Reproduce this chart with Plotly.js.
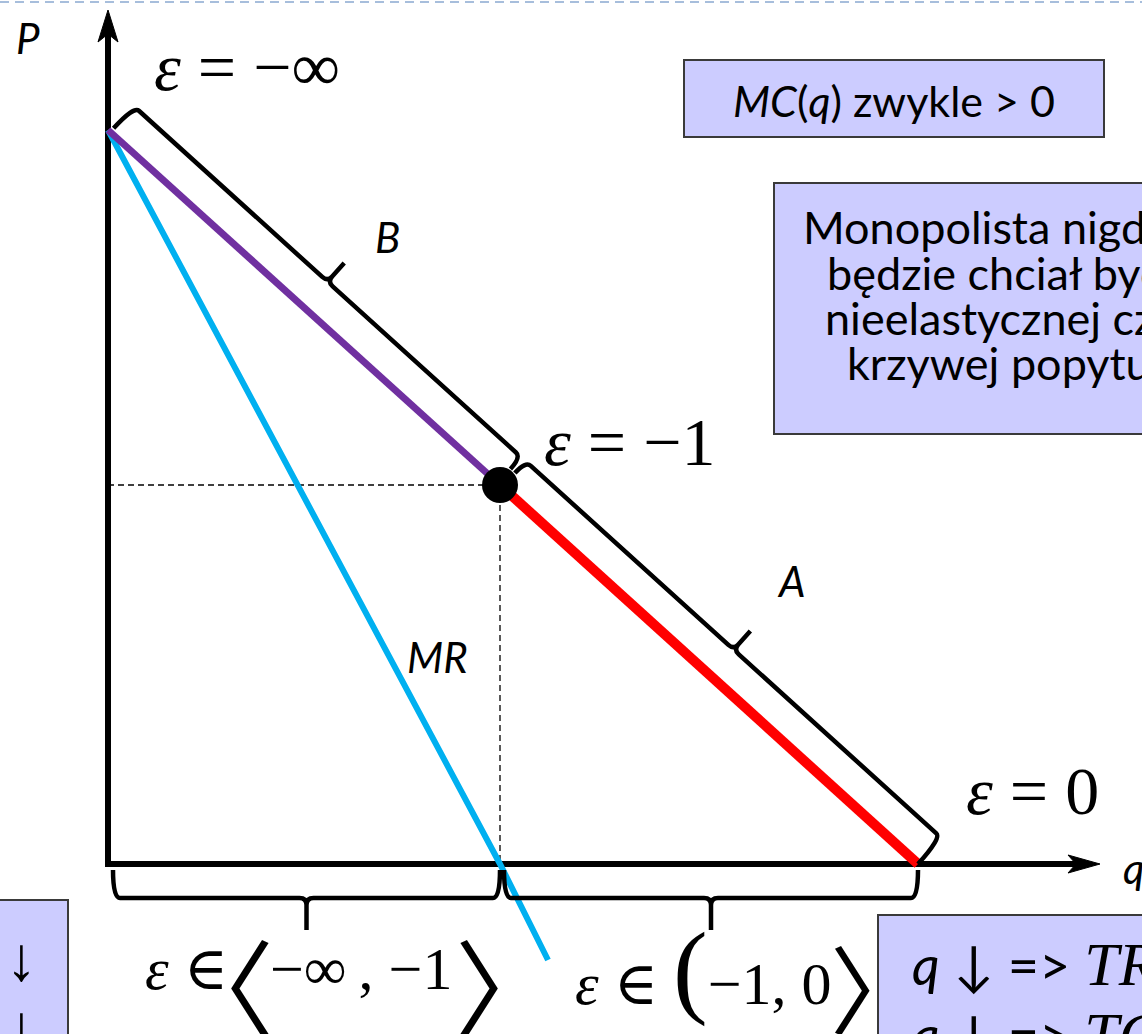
<!DOCTYPE html>
<html><head><meta charset="utf-8">
<script src="https://cdn.plot.ly/plotly-3.0.1.min.js"></script>
<style>html,body{margin:0;padding:0;background:#fff;overflow:hidden}</style>
</head><body><div id="chart" style="width:1142px;height:1034px"></div>
<script>
// ---------------- data (model units) ----------------
const demandQ = [0, 3.92, 8.10];     // P-intercept, unit-elastic point, q-intercept
const demandP = [7.34, 3.79, 0];
const mrQ = [0, 3.92, 4.40];         // marginal revenue line
const mrP = [7.34, 0, -0.96];
const unitQ = [3.92];                // point where elasticity = -1
const unitP = [3.79];
const axisEndQ = [9.92];
const axisEndP = [8.54];
const elasticityLabels = ["ε = −∞", "ε = −1", "ε = 0"];
const segmentLabels = ["B", "A", "MR"];
const axisLabels = ["P", "q"];
const mcText = ["<i>MC</i>(<i>q</i>) zwykle > 0"];
const monoLines = ["Monopolista nigdy nie", "będzie chciał być w", "nieelastycznej części", "krzywej popytu"];
const intervalInner = ["−∞\u2009, −1", "−1, 0"];

// ---------------- styling ----------------
const SANS = "Lato, 'DejaVu Sans', sans-serif";
const SERIF = "'Liberation Serif', 'DejaVu Serif', serif";
const CJK = "'Noto Sans CJK JP'";
const BOX_FILL = "#ccccff", BOX_LINE = "#3a3a3a";

// ---------------- traces ----------------
const traces = [];
function line(x, y, color, width, dash) {
  traces.push({x, y, type: "scatter", mode: "lines", hoverinfo: "skip",
    line: {color, width, dash: dash || "solid"}});
}
line([0, unitQ[0]], [unitP[0], unitP[0]], "#000", 1.3, "6px,4px");
line([unitQ[0], unitQ[0]], [unitP[0], 0], "#000", 1.3, "6px,4px");
line([0, 0], [-0.03, axisEndP[0] - 0.24], "#000", 6);
line([-0.03, axisEndQ[0] - 0.24], [0, 0], "#000", 6);
line(mrQ, mrP, "#00b0f0", 6);
line(demandQ.slice(0, 2), demandP.slice(0, 2), "#7030a0", 7);
line(demandQ.slice(1), demandP.slice(1), "#ff0000", 10);
traces.push({x: unitQ, y: unitP, type: "scatter", mode: "markers", hoverinfo: "skip",
  marker: {color: "#000", size: 36}});

// ---------------- braces (built from the data points) ----------------
function bracePath(S, u, nrm, s0, s1, n0, n1, h, t, r) {
  const p = (s, k) => (S[0] + s * u[0] + k * nrm[0]).toFixed(4) + "," + (S[1] + s * u[1] + k * nrm[1]).toFixed(4);
  const m = (s0 + s1) / 2;
  return "M" + p(s0, n0) + " Q" + p(s0, h) + " " + p(s0 + r, h) +
    " L" + p(m - r, h) + " Q" + p(m, h) + " " + p(m, h + r) + " L" + p(m, h + t) +
    " M" + p(m, h + r) + " Q" + p(m, h) + " " + p(m + r, h) +
    " L" + p(s1 - r, h) + " Q" + p(s1, h) + " " + p(s1, n1);
}
const S0 = [demandQ[0], demandP[0]];
const dx = demandQ[2] - demandQ[0], dy = demandP[2] - demandP[0];
const L = Math.hypot(dx, dy);
const u = [dx / L, dy / L];
const nrm = [-u[1], u[0]];
const sUnit = (unitQ[0] - S0[0]) * u[0] + (unitP[0] - S0[1]) * u[1];

const shapes = [];
function pathShape(path, width, fill) {
  shapes.push({type: "path", xref: "x", yref: "y", path,
    line: {color: "#000", width: width}, fillcolor: fill || "rgba(0,0,0,0)"});
}
pathShape(bracePath(S0, u, nrm, 0.03, sUnit - 0.03, 0.05, 0.19, 0.35, 0.25, 0.07), 4.5);
pathShape(bracePath(S0, u, nrm, sUnit + 0.03, L, 0.19, 0.0, 0.35, 0.25, 0.07), 4.5);
pathShape(bracePath([0, 0], [1, 0], [0, -1], 0.05, unitQ[0], 0.06, 0.06, 0.34, 0.32, 0.07), 4.5);
pathShape(bracePath([0, 0], [1, 0], [0, -1], unitQ[0] + 0.04, demandQ[2], 0.06, 0.06, 0.34, 0.32, 0.07), 4.5);

const aq = axisEndQ[0], ap = axisEndP[0];
pathShape(`M0,${ap} L-0.10,${ap - 0.32} L0,${ap - 0.24} L0.10,${ap - 0.32} Z`, 1, "#000");
pathShape(`M${aq},0 L${aq - 0.32},0.09 L${aq - 0.24},0 L${aq - 0.32},-0.09 Z`, 1, "#000");

function rect(x0, y0, x1, y1) {
  shapes.push({type: "rect", xref: "x", yref: "y", x0, y0, x1, y1, layer: "below",
    fillcolor: BOX_FILL, line: {color: BOX_LINE, width: 2}});
}
rect(5.76, 8.04, 9.96, 7.27);
rect(6.66, 6.81, 10.6, 4.30);
rect(7.70, -0.51, 10.6, -1.9);
rect(-1.2, -0.36, -0.40, -1.9);
shapes.push({type: "line", xref: "paper", yref: "paper", x0: 0, x1: 1, y0: 0.998, y1: 0.998,
  line: {color: "#a7bedc", width: 2, dash: "9px,6px"}});

// ---------------- annotations ----------------
const ann = [];
function txt(x, y, text, size, family, extra) {
  ann.push(Object.assign({x, y, xref: "x", yref: "y", text, showarrow: false,
    font: {size, family, color: "#000"}, xanchor: "center", yanchor: "middle"}, extra || {}));
}
const eps = s => s.replace("ε", "<i>ε</i>");
txt(-0.80, 8.26, "<i>" + axisLabels[0] + "</i>", 42, SANS);
txt(10.13, -0.04, "<i>" + axisLabels[1] + "</i>", 42, SANS, {xanchor: "left"});
txt(1.39, 7.97, eps(elasticityLabels[0]), 68, SERIF);
txt(5.22, 4.22, eps(elasticityLabels[1]), 68, SERIF);
txt(9.24, 0.73, eps(elasticityLabels[2]), 68, SERIF);
txt(2.79, 6.27, "<i>" + segmentLabels[0] + "</i>", 42, SANS);
txt(6.83, 2.83, "<i>" + segmentLabels[1] + "</i>", 42, SANS);
txt(3.29, 2.07, "<i>" + segmentLabels[2] + "</i>", 42, SANS);
txt(7.86, 7.64, mcText[0], 43, SANS);
const monoLeft = [6.93, 7.17, 7.15, 7.37];
const monoY = [6.37, 5.91, 5.46, 5.01];
monoLines.forEach((s, i) => txt(monoLeft[i], monoY[i], s, 45, SANS, {xanchor: "left"}));

// interval labels under the q axis
const par = c => `<span style="font-size:104px;font-family:'Liberation Serif'">${c}</span>`;
txt(0.35, -1.05, "<i>ε</i> ∈", 60, SERIF, {xanchor: "left"});
txt(1.68, -1.18, "〈", 104, CJK, {xanchor: "right"});
txt(1.60, -1.05, intervalInner[0], 60, SERIF, {xanchor: "left"});
txt(3.45, -1.18, "〉", 104, CJK, {xanchor: "left"});
txt(4.65, -1.05, "<i>ε</i> ∈ " + par("(") + intervalInner[1], 60, SERIF, {xanchor: "left"});
txt(7.20, -1.21, "〉", 96, CJK, {xanchor: "left"});

txt(-0.87, -0.58, "↓", 62, "'Liberation Sans'", {yanchor: "top"});
txt(-0.87, -1.26, "↓", 62, "'Liberation Sans'", {yanchor: "top"});
const tr = s => `<span style="font-family:'Liberation Serif';font-size:62px"><i>${s}</i></span>`;
txt(8.02, -0.64, "<i>q</i> ↓ => " + tr("TR") + " ↓<br><i>q</i> ↓ => " + tr("TC") + " ↓",
  54, SANS, {xanchor: "left", yanchor: "top", align: "left"});

const layout = {
  width: 1142, height: 1034, margin: {l: 0, r: 0, t: 0, b: 0},
  paper_bgcolor: "#fff", plot_bgcolor: "#fff", showlegend: false,
  xaxis: {range: [-1.08, 10.34], visible: false, fixedrange: true},
  yaxis: {range: [-1.70, 8.64], visible: false, fixedrange: true},
  shapes, annotations: ann
};
Plotly.newPlot("chart", traces, layout, {staticPlot: true, displayModeBar: false});
</script></body></html>
